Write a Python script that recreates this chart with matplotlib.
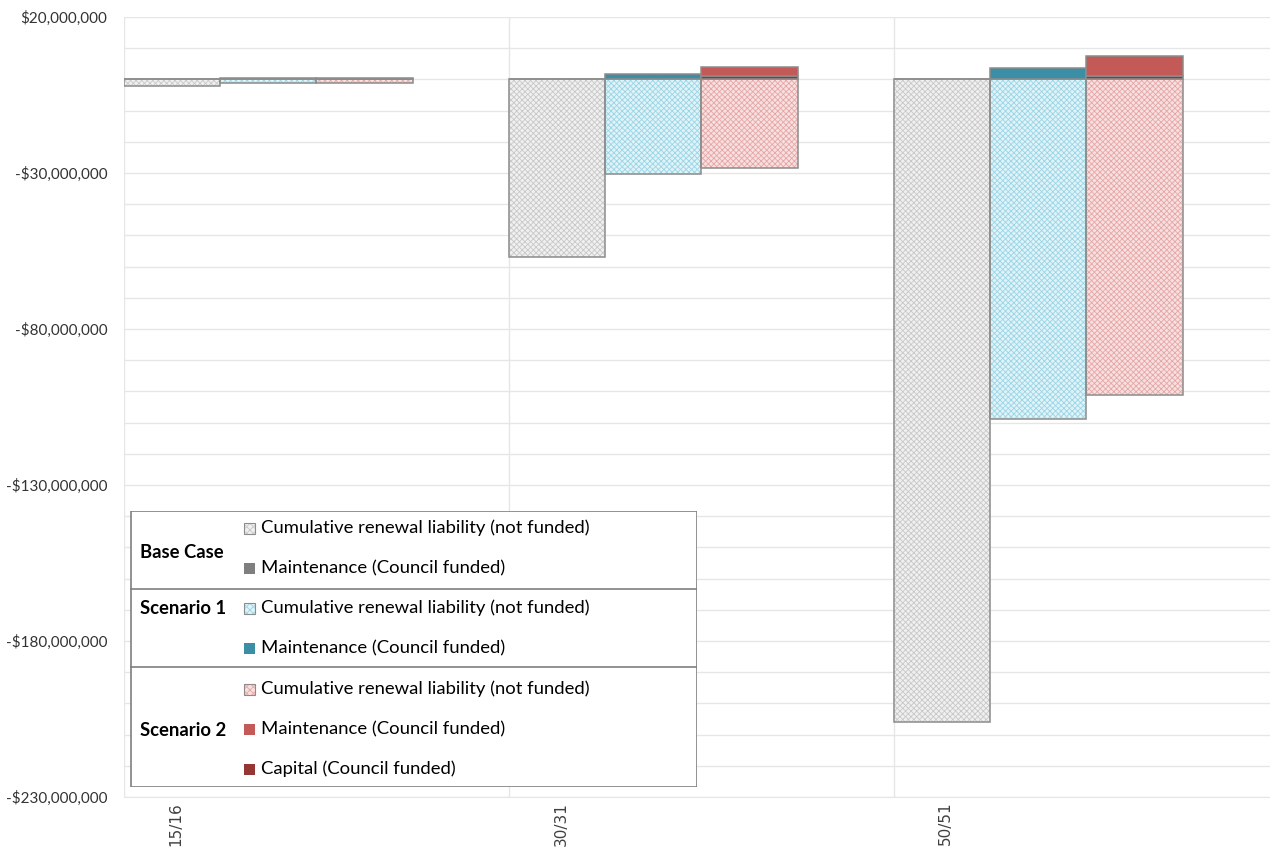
import numpy as np
import matplotlib
matplotlib.use('Agg')
import matplotlib.pyplot as plt
from matplotlib.patches import Rectangle
from matplotlib.ticker import FuncFormatter

# values in $ millions
years = ['15/16', '30/31', '50/51']
base_renewal = [-2.2, -57.0, -206.0]
base_maint = [0.0, 0.0, 0.0]
s1_renewal = [-1.1, -30.3, -108.8]
s1_maint = [0.4, 1.8, 3.7]
s2_renewal = [-1.1, -28.5, -101.0]
s2_capital = [0.1, 1.1, 1.1]
s2_maint = [0.3, 2.9, 6.4]

groups = ['Base Case', 'Scenario 1', 'Scenario 2']
renewal_label = 'Cumulative renewal liability (not funded)'
maint_label = 'Maintenance (Council funded)'
capital_label = 'Capital (Council funded)'

EDGE = '#8c8c8c'
GRID = '#e6e6e6'
# (fill, hatch) for the patterned renewal bars
PAT = {
    'base': ('#f0f0f0', '#c8c8c8'),
    's1': ('#e0f3f8', '#9ad5e5'),
    's2': ('#f7e0e0', '#e7a6a6'),
}
MAINT = {'base': '#7f7f7f', 's1': '#3a8ea5', 's2': '#c45a58'}
CAPITAL = '#943634'

plt.rcParams['font.family'] = ['Lato', 'DejaVu Sans']
plt.rcParams['hatch.linewidth'] = 0.6

W = 0.25


def patterned(ax, x, h, key, bottom=0.0):
    face, hc = PAT[key]
    ax.bar(x, h, W, bottom=bottom, align='edge', color=face, edgecolor=hc,
           hatch='xxxxxx', linewidth=0, zorder=2)
    ax.bar(x, h, W, bottom=bottom, align='edge', fill=False,
           edgecolor=EDGE, linewidth=1.1, zorder=3)


def solid(ax, x, h, color, bottom=0.0):
    ax.bar(x, h, W, bottom=bottom, align='edge', color=color,
           edgecolor=EDGE, linewidth=1.1, zorder=3)


fig = plt.figure(figsize=(12.7, 8.52), dpi=100)
ax = fig.add_axes([124 / 1270, 1 - 797 / 852, 1146 / 1270, 780 / 852])

x = np.arange(len(years), dtype=float)
patterned(ax, x, base_renewal, 'base')
solid(ax, x, base_maint, MAINT['base'])
patterned(ax, x + W, s1_renewal, 's1')
solid(ax, x + W, s1_maint, MAINT['s1'])
patterned(ax, x + 2 * W, s2_renewal, 's2')
solid(ax, x + 2 * W, s2_capital, CAPITAL)
solid(ax, x + 2 * W, s2_maint, MAINT['s2'], bottom=np.array(s2_capital))

ax.set_ylim(-230, 20)
ax.set_xlim(0, 2.977)
ax.set_yticks(np.arange(-230, 21, 50))
ax.set_yticks(np.arange(-230, 21, 10), minor=True)
ax.yaxis.set_major_formatter(FuncFormatter(
    lambda v, p: ('-' if v < 0 else '') + '${:,.0f}'.format(abs(v) * 1e6)))
ax.grid(True, axis='y', which='both', color=GRID, linewidth=1, zorder=0)
for xv in x:
    ax.axvline(xv, color=GRID, linewidth=1, zorder=0)
ax.set_axisbelow(True)
ax.set_xticks(x + 0.135)
ax.set_xticklabels(years, rotation=90, va='top', fontsize=11,
                   family='DejaVu Sans', color='#404040')
ax.tick_params(axis='both', which='both', length=0)
ax.tick_params(axis='y', labelsize=11, pad=12, colors='#333333')
for side in ['top', 'right', 'left']:
    ax.spines[side].set_visible(False)
ax.spines['bottom'].set_color(GRID)

# grouped legend table
lg = fig.add_axes([130 / 1270, 1 - 787 / 852, 567 / 1270, 276 / 852], zorder=5)
lg.set_xlim(0, 567)
lg.set_ylim(276, 0)
lg.axis('off')
lg.add_patch(Rectangle((0.5, 0.5), 566, 275, facecolor='white',
                       edgecolor='#7f7f7f', linewidth=1.2))
for yd in [78, 156]:
    lg.plot([0, 567], [yd, yd], color='#7f7f7f', linewidth=1.2)

entries = [
    (17, 'pat', 'base', renewal_label),
    (57, 'solid', MAINT['base'], maint_label),
    (97, 'pat', 's1', renewal_label),
    (137, 'solid', MAINT['s1'], maint_label),
    (178, 'pat', 's2', renewal_label),
    (218, 'solid', MAINT['s2'], maint_label),
    (258, 'solid', CAPITAL, capital_label),
]
for yc, kind, c, label in entries:
    if kind == 'pat':
        face, hc = PAT[c]
        lg.add_patch(Rectangle((114, yc - 5.5), 11, 11, facecolor=face,
                               edgecolor=hc, hatch='xxxxx', linewidth=0))
        lg.add_patch(Rectangle((114, yc - 5.5), 11, 11, fill=False,
                               edgecolor=EDGE, linewidth=0.8))
    else:
        lg.add_patch(Rectangle((114, yc - 5.5), 11, 11, facecolor=c,
                               edgecolor='none'))
    lg.text(131, yc, label, fontsize=13.3, va='center', ha='left', color='#000000')

for yc, g in zip([41, 97, 219], groups):
    lg.text(10, yc, g, fontsize=13.3, fontweight='bold', va='center', ha='left')

fig.savefig('out.png', dpi=100)
